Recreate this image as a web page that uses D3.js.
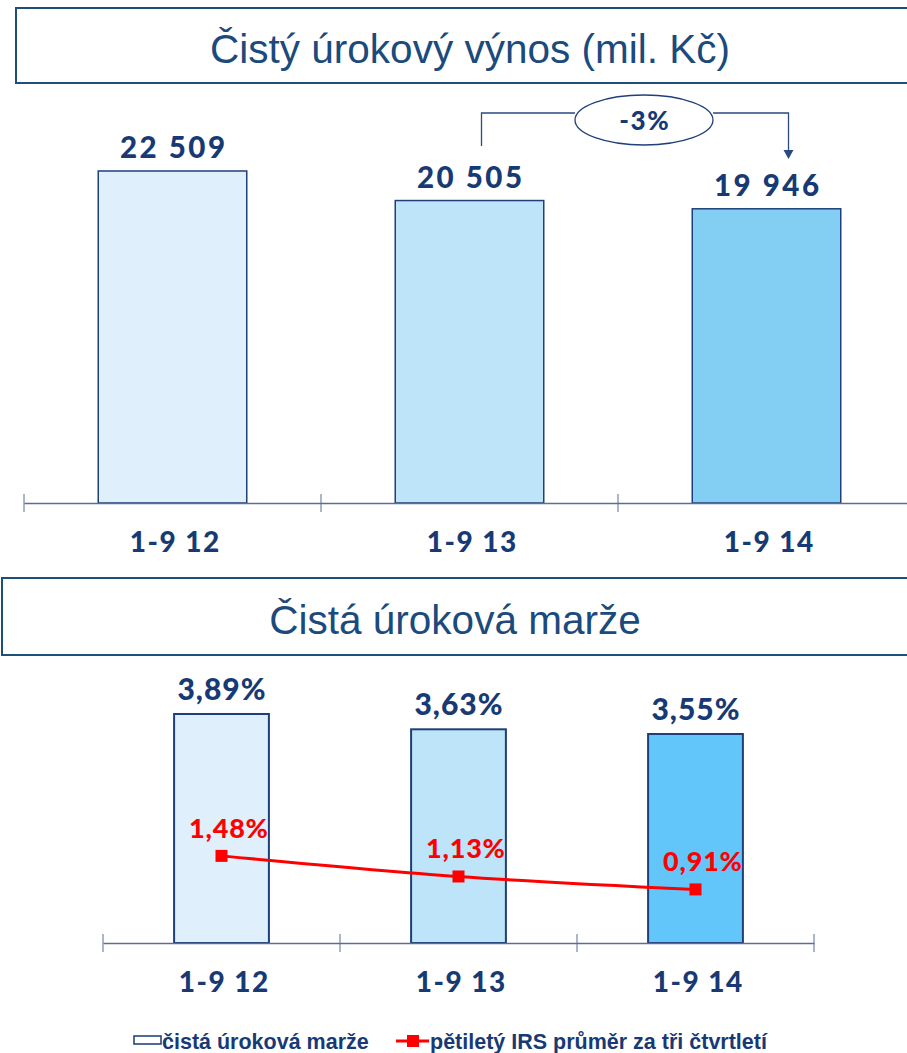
<!DOCTYPE html>
<html><head><meta charset="utf-8">
<script src="https://cdn.jsdelivr.net/npm/d3@7"></script>
<style>body{margin:0;background:#fff;}svg{display:block;}</style>
</head><body>
<script>
const categories = ["1-9 12", "1-9 13", "1-9 14"];
const nii = [22509, 20505, 19946];
const niiLabels = ["22 509", "20 505", "19 946"];
const margin = [3.89, 3.63, 3.55];
const irs = [1.48, 1.13, 0.91];
const changeLabel = "-3%";
const title1 = "Čistý úrokový výnos (mil. Kč)";
const title2 = "Čistá úroková marže";
const legendLabels = ["čistá úroková marže", "pětiletý IRS průměr za tři čtvrtletí"];

const navy = "#183a74", boxC = "#1f4e79", titleC = "#1b4a7c";
const fills1 = ["#dff0fc", "#bde4f8", "#82cff3"];
const fills2 = ["#dff0fc", "#bde4f8", "#63c6fb"];
const numFont = "Lato, 'Open Sans', sans-serif";
const sansFont = "'Liberation Sans', Arial, sans-serif";

const svg = d3.select("body").append("svg").attr("width", 907).attr("height", 1053);

function numText(sel, size, ls) {
  return sel.attr("font-family", numFont).attr("font-weight", 900).attr("font-size", size)
    .attr("letter-spacing", ls).attr("dx", ls / 2);
}

// title boxes
function titleBox(x, y, w, h, t, cx, ty) {
  svg.append("rect").attr("x", x).attr("y", y).attr("width", w).attr("height", h)
    .attr("fill", "#fff").attr("stroke", boxC).attr("stroke-width", 2);
  svg.append("text").attr("x", cx).attr("y", ty).attr("text-anchor", "middle")
    .attr("font-family", sansFont).attr("font-size", 40.5)
    .attr("fill", titleC).text(t);
}
titleBox(16, 8, 900, 75, title1, 470, 63);
titleBox(2, 578, 914, 77, title2, 455, 634);

// ---- top chart ----
const x1 = d3.scaleBand().domain(categories).range([24, 915]);
const y1 = d3.scaleLinear().domain([0, 26644]).range([503, 110]);
const g1 = svg.append("g");
g1.selectAll("rect.b").data(nii).enter().append("rect")
  .attr("x", (d, i) => x1(categories[i]) + x1.bandwidth() * 0.25)
  .attr("width", x1.bandwidth() * 0.5)
  .attr("y", d => y1(d)).attr("height", d => y1(0) - y1(d))
  .attr("fill", (d, i) => fills1[i]).attr("stroke", "#1f3f7a").attr("stroke-width", 1.5);
const ax1 = g1.append("g").attr("transform", "translate(0,503)")
  .call(d3.axisBottom(x1).tickSize(0).tickFormat(""));
ax1.select(".domain").attr("stroke", "#5a6e93").attr("stroke-width", 1.5);
[24, ...categories.map(c => x1(c) + x1.bandwidth())].forEach(xx => {
  g1.append("line").attr("x1", xx).attr("x2", xx).attr("y1", 494).attr("y2", 512)
    .attr("stroke", "#5a6e93").attr("stroke-width", 1);
});
numText(g1.selectAll("text.v").data(nii).enter().append("text")
  .attr("x", (d, i) => x1(categories[i]) + x1.bandwidth() / 2)
  .attr("y", d => y1(d) - 13).attr("text-anchor", "middle"), 29.5, 2.5)
  .attr("fill", navy).text((d, i) => niiLabels[i]);
numText(g1.selectAll("text.c").data(categories).enter().append("text")
  .attr("x", d => x1(d) + x1.bandwidth() / 2 + 2).attr("y", 552).attr("text-anchor", "middle"), 28, 1.5)
  .attr("fill", navy).text(d => d);

// annotation
const ax2c = x1(categories[1]) + x1.bandwidth() / 2;
const ax3c = x1(categories[2]) + x1.bandwidth() / 2;
const ann = svg.append("g").attr("stroke", "#2a4a80").attr("fill", "none").attr("stroke-width", 1.3);
ann.append("path").attr("d", `M${ax2c + 12},146 V113 H575`);
ann.append("path").attr("d", `M713,113 H${ax3c + 22} V152`);
svg.append("path").attr("d", `M${ax3c + 17},150 L${ax3c + 27},150 L${ax3c + 22},159 Z`).attr("fill", "#2a4a80");
svg.append("ellipse").attr("cx", 644).attr("cy", 120).attr("rx", 69).attr("ry", 25)
  .attr("fill", "#fff").attr("stroke", "#1f3f7a").attr("stroke-width", 1.3);
numText(svg.append("text").attr("x", 644).attr("y", 130).attr("text-anchor", "middle"), 26, 1.5)
  .attr("fill", navy).text(changeLabel);

// ---- bottom chart ----
const x2 = d3.scaleBand().domain(categories).range([103, 814]);
const y2 = d3.scaleLinear().domain([0, 4.5]).range([943, 943 - 4.5 * 58.87]);
const g2 = svg.append("g");
g2.selectAll("rect.b").data(margin).enter().append("rect")
  .attr("x", (d, i) => x2(categories[i]) + x2.bandwidth() * 0.3)
  .attr("width", x2.bandwidth() * 0.4)
  .attr("y", d => y2(d)).attr("height", d => y2(0) - y2(d))
  .attr("fill", (d, i) => fills2[i]).attr("stroke", "#1f3f7a").attr("stroke-width", 2);
const axb = g2.append("g").attr("transform", "translate(0,943)")
  .call(d3.axisBottom(x2).tickSize(0).tickFormat(""));
axb.select(".domain").attr("stroke", "#5a6e93").attr("stroke-width", 1.5);
[103, ...categories.map(c => x2(c) + x2.bandwidth())].forEach(xx => {
  g2.append("line").attr("x1", xx).attr("x2", xx).attr("y1", 934).attr("y2", 952)
    .attr("stroke", "#5a6e93").attr("stroke-width", 1);
});
numText(g2.selectAll("text.v").data(margin).enter().append("text")
  .attr("x", (d, i) => x2(categories[i]) + x2.bandwidth() / 2)
  .attr("y", d => y2(d) - 14).attr("text-anchor", "middle"), 30, 1)
  .attr("fill", navy).text(d => d.toFixed(2).replace(".", ",") + "%");
numText(g2.selectAll("text.c").data(categories).enter().append("text")
  .attr("x", d => x2(d) + x2.bandwidth() / 2 + 2).attr("y", 992).attr("text-anchor", "middle"), 28, 1.5)
  .attr("fill", navy).text(d => d);

const cx2 = (i) => x2(categories[i]) + x2.bandwidth() / 2;
const line = d3.line().x((d, i) => cx2(i)).y(d => y2(d)).curve(d3.curveMonotoneX);
g2.append("path").datum(irs).attr("d", line).attr("fill", "none").attr("stroke", "#ff0000").attr("stroke-width", 3);
g2.selectAll("rect.m").data(irs).enter().append("rect")
  .attr("x", (d, i) => cx2(i) - 6).attr("y", d => y2(d) - 6).attr("width", 12).attr("height", 12)
  .attr("fill", "#ff0000");
numText(g2.selectAll("text.r").data(irs).enter().append("text")
  .attr("x", (d, i) => cx2(i) + 7).attr("y", d => y2(d) - 18).attr("text-anchor", "middle"), 27, 0.8)
  .attr("fill", "#ff0000").text(d => d.toFixed(2).replace(".", ",") + "%");

// legend
const lg = svg.append("g");
lg.append("rect").attr("x", 134).attr("y", 1036).attr("width", 27).attr("height", 8)
  .attr("fill", "#fff").attr("stroke", navy).attr("stroke-width", 1.5);
lg.append("text").attr("x", 162).attr("y", 1049).attr("font-family", sansFont)
  .attr("font-weight", "bold").attr("font-size", 21.5).attr("fill", navy).text(legendLabels[0]);
lg.append("line").attr("x1", 396).attr("x2", 429).attr("y1", 1041).attr("y2", 1041)
  .attr("stroke", "#ff0000").attr("stroke-width", 3);
lg.append("rect").attr("x", 407).attr("y", 1035).attr("width", 12).attr("height", 12).attr("fill", "#ff0000");
lg.append("text").attr("x", 430).attr("y", 1049).attr("font-family", sansFont)
  .attr("font-weight", "bold").attr("font-size", 21.5).attr("fill", navy).text(legendLabels[1]);
</script>
</body></html>
